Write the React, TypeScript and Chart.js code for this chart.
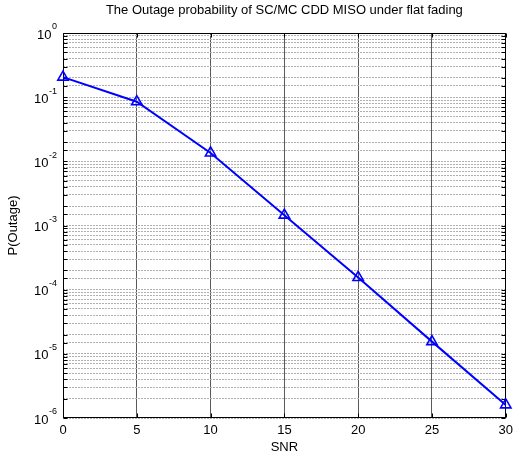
import React, { useEffect, useRef } from 'react';
import { Chart, registerables } from 'chart.js';

Chart.register(...registerables);

const snr = [0, 5, 10, 15, 20, 25, 30];
const pOutage = [0.205, 0.085, 0.0135, 0.00145, 0.000155, 0.0000155, 0.0000016];
const xTickValues = [0, 5, 10, 15, 20, 25, 30];
const yDecadeExponents = [0, -1, -2, -3, -4, -5, -6];
const titleText = 'The Outage probability of SC/MC CDD MISO under flat fading';
const xLabel = 'SNR';
const yLabel = 'P(Outage)';

const FONT = "'Liberation Sans', Arial, Helvetica, sans-serif";

const framePlugin = {
  id: 'matlabFrame',
  beforeDatasetsDraw(chart: any) {
    const { ctx, chartArea: a, scales } = chart;
    const xs = scales.x;
    const ys = scales.y;
    const L = Math.round(a.left) + 0.5;
    const R = Math.round(a.right) - 0.5;
    const T = Math.round(a.top) + 0.5;
    const B = Math.round(a.bottom) - 0.5;
    ctx.save();
    ctx.strokeStyle = '#000';
    ctx.lineWidth = 1;
    ctx.setLineDash([]);
    ctx.beginPath();
    ctx.rect(L, T, R - L, B - T);
    ctx.stroke();
    ctx.beginPath();
    for (const t of ys.ticks) {
      const py = Math.round(ys.getPixelForValue(t.value)) + 0.5;
      ctx.moveTo(L, py);
      ctx.lineTo(L + 4, py);
      ctx.moveTo(R, py);
      ctx.lineTo(R - 4, py);
    }
    for (const t of xs.ticks) {
      const px = Math.round(xs.getPixelForValue(t.value)) + 0.5;
      ctx.moveTo(px, B);
      ctx.lineTo(px, B - 4);
      ctx.moveTo(px, T);
      ctx.lineTo(px, T + 4);
    }
    ctx.stroke();
    ctx.restore();
  },
  afterDraw(chart: any) {
    const { ctx, scales } = chart;
    const ys = scales.y;
    const right = 57;
    ctx.save();
    ctx.fillStyle = '#000';
    ctx.textBaseline = 'middle';
    ctx.textAlign = 'left';
    for (const e of yDecadeExponents) {
      const py = ys.getPixelForValue(Math.pow(10, e));
      const expStr = String(e);
      ctx.font = `9px ${FONT}`;
      const expW = ctx.measureText(expStr).width;
      ctx.font = `13px ${FONT}`;
      const baseW = ctx.measureText('10').width;
      const bx = right - expW - baseW - 0.5;
      ctx.fillText('10', bx, py + 2);
      ctx.font = `9px ${FONT}`;
      ctx.fillText(expStr, right - expW, py - 6);
    }
    ctx.restore();
  },
};

export default function App() {
  const ref = useRef<HTMLCanvasElement>(null);
  useEffect(() => {
    document.body.style.margin = '0';
    Chart.defaults.font.family = FONT;
    Chart.defaults.color = '#000';
    const chart = new Chart(ref.current as HTMLCanvasElement, {
      type: 'line',
      data: {
        datasets: [
          {
            data: snr.map((x, i) => ({ x, y: pOutage[i] })),
            borderColor: '#0000ff',
            backgroundColor: 'rgba(0,0,0,0)',
            borderWidth: 2,
            pointStyle: 'triangle',
            pointRadius: 6,
            pointBorderWidth: 1.6,
            pointBorderColor: '#0000ff',
            pointBackgroundColor: 'rgba(0,0,0,0)',
            tension: 0,
            clip: false as any,
          },
        ],
      },
      plugins: [framePlugin],
      options: {
        animation: false,
        responsive: false,
        devicePixelRatio: 1,
        layout: { padding: { left: 0, right: 7, top: 0, bottom: 0 } },
        plugins: {
          legend: { display: false },
          tooltip: { enabled: false },
          title: {
            display: true,
            fullSize: false,
            text: titleText,
            color: '#000',
            font: { size: 13, weight: 'normal', family: FONT, lineHeight: 1.2 },
            padding: { top: 3, bottom: 14.4 },
          },
        },
        scales: {
          x: {
            type: 'linear',
            min: 0,
            max: 30,
            afterBuildTicks: (s: any) => {
              s.ticks = xTickValues.map((v) => ({ value: v }));
            },
            afterFit: (s: any) => {
              s.height = 36;
            },
            ticks: {
              color: '#000',
              font: { size: 13, family: FONT },
              padding: 5,
              maxRotation: 0,
              autoSkip: false,
            },
            grid: { color: '#5a5a5a', lineWidth: 1, drawTicks: false, tickLength: 0 },
            border: { display: false },
            title: {
              display: true,
              text: xLabel,
              color: '#000',
              font: { size: 13, family: FONT },
              padding: { top: 0, bottom: -1 },
            },
          },
          y: {
            type: 'logarithmic',
            min: 1e-6,
            max: 1,
            afterFit: (s: any) => {
              s.width = 63;
            },
            ticks: { display: false, autoSkip: false },
            grid: { color: '#b0b0b0', lineWidth: 1, drawTicks: false, tickLength: 0 },
            border: { display: false, dash: [2, 1] },
            title: {
              display: true,
              text: yLabel,
              color: '#000',
              font: { size: 13, family: FONT },
              padding: { top: 6, bottom: 0 },
            },
          },
        },
      } as any,
    });
    return () => chart.destroy();
  }, []);
  return (
    <div style={{ width: 518, height: 454, background: '#fff' }}>
      <canvas ref={ref} width={518} height={454} style={{ display: 'block' }} />
    </div>
  );
}
